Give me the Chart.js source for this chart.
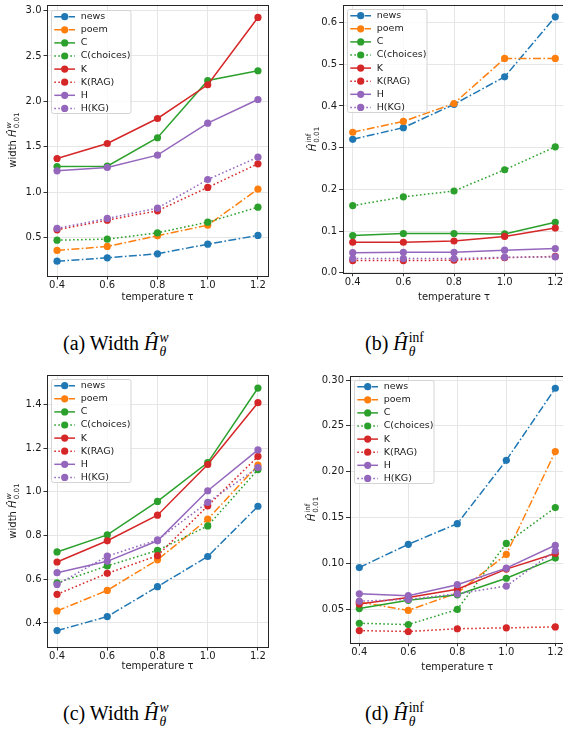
<!DOCTYPE html>
<html>
<head>
<meta charset="utf-8">
<script src="https://cdn.jsdelivr.net/npm/chart.js@4.4.1/dist/chart.umd.min.js"></script>
<style>
html, body { margin: 0; padding: 0; background: #fff; }
body { width: 563px; height: 734px; overflow: hidden; position: relative; }
canvas { position: absolute; }
.ytitle { position: absolute; transform: translate(-50%, -50%) rotate(-90deg); font: 10px "DejaVu Sans"; color: #1a1a1a; white-space: nowrap; }
.ss { display: inline-flex; flex-direction: column; font-size: 0.72em; line-height: 1.05; vertical-align: middle; margin-left: 1px; }
.caption { position: absolute; font: 20px "Liberation Serif"; color: #000; white-space: nowrap; line-height: 24px; }
.caption .ss { font-size: 0.68em; line-height: 1.05; }
</style>
</head>
<body>
<canvas id="chartA" width="280" height="310" style="left:0;top:0"></canvas>
<canvas id="chartB" width="290" height="310" style="left:280px;top:0"></canvas>
<canvas id="chartC" width="280" height="310" style="left:0;top:370px"></canvas>
<canvas id="chartD" width="290" height="310" style="left:280px;top:370px"></canvas>

<div class="ytitle" style="left:13px;top:140px">width <i>Ĥ</i><span class="ss"><i>w</i><span>0.01</span></span></div>
<div class="ytitle" style="left:313px;top:139px"><i>Ĥ</i><span class="ss"><span>inf</span><span>0.01</span></span></div>
<div class="ytitle" style="left:13px;top:511px">width <i>Ĥ</i><span class="ss"><i>w</i><span>0.01</span></span></div>
<div class="ytitle" style="left:312px;top:509px"><i>Ĥ</i><span class="ss"><span>inf</span><span>0.01</span></span></div>

<div class="caption" style="left:63px;top:331px">(a) Width <i>Ĥ</i><span class="ss"><i>w</i><i>θ</i></span></div>
<div class="caption" style="left:365px;top:331px">(b) <i>Ĥ</i><span class="ss"><span>inf</span><i>θ</i></span></div>
<div class="caption" style="left:63px;top:701px">(c) Width <i>Ĥ</i><span class="ss"><i>w</i><i>θ</i></span></div>
<div class="caption" style="left:365px;top:701px">(d) <i>Ĥ</i><span class="ss"><span>inf</span><i>θ</i></span></div>

<script>
// ---------- data ----------
const temps = [0.4, 0.6, 0.8, 1.0, 1.2];
const seriesNames = ['news', 'poem', 'C', 'C(choices)', 'K', 'K(RAG)', 'H', 'H(KG)'];

// one row per series, same order as seriesNames
const widthA = [
    [0.243, 0.280, 0.324, 0.430, 0.526],
    [0.361, 0.405, 0.522, 0.639, 1.035],
    [1.284, 1.288, 1.600, 2.230, 2.337],
    [0.474, 0.485, 0.555, 0.672, 0.837],
    [1.372, 1.537, 1.812, 2.183, 2.923],
    [0.588, 0.694, 0.797, 1.054, 1.314],
    [1.237, 1.273, 1.409, 1.761, 2.021],
    [0.603, 0.713, 0.826, 1.141, 1.387]
];
const infB = [
    [0.320, 0.348, 0.404, 0.470, 0.614],
    [0.337, 0.363, 0.406, 0.514, 0.514],
    [0.089, 0.094, 0.094, 0.093, 0.121],
    [0.161, 0.182, 0.196, 0.247, 0.302],
    [0.073, 0.073, 0.076, 0.087, 0.107],
    [0.029, 0.029, 0.030, 0.036, 0.039],
    [0.048, 0.049, 0.049, 0.054, 0.058],
    [0.034, 0.034, 0.034, 0.037, 0.038]
];
const widthC = [
    [0.365, 0.429, 0.566, 0.704, 0.934],
    [0.455, 0.549, 0.689, 0.875, 1.122],
    [0.725, 0.803, 0.956, 1.134, 1.475],
    [0.583, 0.661, 0.732, 0.844, 1.102],
    [0.679, 0.776, 0.893, 1.125, 1.408],
    [0.531, 0.627, 0.708, 0.936, 1.162],
    [0.630, 0.682, 0.776, 1.005, 1.192],
    [0.576, 0.706, 0.780, 0.952, 1.111]
];
const infD = [
    [0.0957, 0.121, 0.1435, 0.2125, 0.291],
    [0.058, 0.049, 0.068, 0.110, 0.222],
    [0.051, 0.060, 0.066, 0.084, 0.106],
    [0.035, 0.0335, 0.050, 0.122, 0.161],
    [0.056, 0.063, 0.072, 0.094, 0.111],
    [0.027, 0.026, 0.029, 0.030, 0.031],
    [0.067, 0.065, 0.077, 0.095, 0.120],
    [0.059, 0.061, 0.067, 0.0755, 0.114]
];

const yTicksA = [0.5, 1.0, 1.5, 2.0, 2.5, 3.0];
const yTicksB = [0.0, 0.1, 0.2, 0.3, 0.4, 0.5, 0.6];
const yTicksC = [0.4, 0.6, 0.8, 1.0, 1.2, 1.4];
const yTicksD = [0.05, 0.10, 0.15, 0.20, 0.25, 0.30];

// ---------- styles ----------
const colors = ['#1f77b4', '#ff7f0e', '#2ca02c', '#2ca02c', '#d62728', '#d62728', '#9467bd', '#9467bd'];
const dashDot = [8, 2.4, 1.6, 2.4];
const dotted = [1.6, 2.4];
const dashes = [dashDot, dashDot, [], dotted, [], dotted, [], dotted];
const tickFont = { family: 'DejaVu Sans', size: 10 };
const textColor = '#1a1a1a';

// frame + legend inside the plot, drawn over the lines
const frameLegend = {
    id: 'frameLegend',
    afterDatasetsDraw(chart) {
        const { ctx, chartArea: a } = chart;
        ctx.save();
        ctx.setLineDash([]);
        ctx.strokeStyle = '#262626';
        ctx.lineWidth = 1;
        ctx.strokeRect(Math.round(a.left) + 0.5, Math.round(a.top) + 0.5,
            Math.round(a.right - a.left), Math.round(a.bottom - a.top));

        const bx = Math.round(a.left + 4), by = Math.round(a.top + 4.5);
        const bw = 79.5, bh = 103;
        ctx.fillStyle = 'rgba(255,255,255,0.8)';
        ctx.strokeStyle = '#d4d4d4';
        ctx.beginPath();
        if (ctx.roundRect) ctx.roundRect(bx + 0.5, by + 0.5, bw, bh, 2);
        else ctx.rect(bx + 0.5, by + 0.5, bw, bh);
        ctx.fill();
        ctx.stroke();

        ctx.font = '9.5px "DejaVu Sans"';
        ctx.textBaseline = 'middle';
        seriesNames.forEach((name, i) => {
            const y = by + 6.7 + i * 13.1;
            ctx.strokeStyle = colors[i];
            ctx.lineWidth = 1.5;
            ctx.setLineDash(dashes[i]);
            ctx.beginPath();
            ctx.moveTo(bx + 3.3, y);
            ctx.lineTo(bx + 24, y);
            ctx.stroke();
            ctx.setLineDash([]);
            ctx.fillStyle = colors[i];
            ctx.beginPath();
            ctx.arc(bx + 13.7, y, 3.6, 0, 2 * Math.PI);
            ctx.fill();
            ctx.fillStyle = textColor;
            ctx.fillText(name, bx + 29.7, y);
        });
        ctx.restore();
    }
};

function makeChart(id, rows, yTicks, dec, box) {
    const datasets = rows.map((row, i) => ({
        label: seriesNames[i],
        data: temps.map((t, j) => ({ x: t, y: row[j] })),
        borderColor: colors[i],
        backgroundColor: colors[i],
        borderWidth: 1.5,
        borderDash: dashes[i],
        pointRadius: 3.6,
        pointBorderWidth: 0,
        pointHoverRadius: 3.6,
        tension: 0,
        order: -i
    }));

    new Chart(document.getElementById(id).getContext('2d'), {
        type: 'line',
        data: { datasets },
        options: {
            responsive: false,
            animation: false,
            devicePixelRatio: 1,
            layout: { padding: { top: box.top, right: box.right, left: 0, bottom: 0 } },
            plugins: { legend: { display: false }, tooltip: { enabled: false } },
            scales: {
                x: {
                    type: 'linear',
                    min: 0.36, max: 1.24,
                    afterBuildTicks: s => { s.ticks = temps.map(v => ({ value: v })); },
                    afterFit: s => { s.height = box.bottom; s.paddingLeft = 0; s.paddingRight = 0; },
                    ticks: { callback: v => v.toFixed(1), font: tickFont, color: textColor, padding: 0, maxRotation: 0, autoSkip: false },
                    grid: { color: '#e6e6e6', tickColor: '#333', tickLength: 3.5 },
                    border: { display: false },
                    title: { display: true, text: 'temperature τ', font: tickFont, color: textColor, padding: { top: 0, bottom: box.titlePad } }
                },
                y: {
                    min: box.ymin, max: box.ymax,
                    afterBuildTicks: s => { s.ticks = yTicks.map(v => ({ value: v })); },
                    afterFit: s => { s.width = box.left; s.paddingTop = 0; s.paddingBottom = 0; },
                    ticks: { callback: v => v.toFixed(dec), font: tickFont, color: textColor, padding: 2 },
                    grid: { color: '#e6e6e6', tickColor: '#333', tickLength: 3.5 },
                    border: { display: false }
                }
            }
        },
        plugins: [frameLegend]
    });
}

makeChart('chartA', widthA, yTicksA, 1, { left: 47, right: 12, top: 5, bottom: 34, titlePad: 7, ymin: 0.08, ymax: 3.06 });
makeChart('chartB', infB, yTicksB, 1, { left: 62.6, right: 4.6, top: 4.7, bottom: 37.3, titlePad: 6.3, ymin: 0, ymax: 0.643 });
makeChart('chartC', widthC, yTicksC, 1, { left: 47, right: 12, top: 4.7, bottom: 33, titlePad: 7.3, ymin: 0.29, ymax: 1.536 });
makeChart('chartD', infD, yTicksD, 2, { left: 69.5, right: 4.9, top: 5.7, bottom: 37.3, titlePad: 6.3, ymin: 0.0138, ymax: 0.3047 });
</script>
</body>
</html>
